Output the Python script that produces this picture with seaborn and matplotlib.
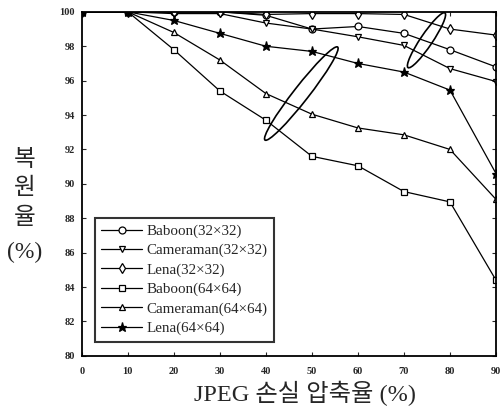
import numpy as np
import pandas as pd
import seaborn as sns
import matplotlib.pyplot as plt
from matplotlib.patches import Ellipse
from matplotlib.transforms import ScaledTranslation

# compression rate (%)
rates = [0, 10, 20, 30, 40, 50, 60, 70, 80, 90]

baboon_32 = [100, 100, 100, 100, 99.8, 99.0, 99.15, 98.75, 97.8, 96.8]
cameraman_32 = [100, 100, 99.9, 99.9, 99.35, 99.0, 98.55, 98.05, 96.7, 95.95]
lena_32 = [100, 100, 100, 100, 99.85, 99.9, 99.9, 99.85, 99.0, 98.65]
baboon_64 = [100, 100, 97.8, 95.4, 93.7, 91.6, 91.05, 89.55, 88.95, 84.4]
cameraman_64 = [100, 100, 98.8, 97.2, 95.25, 94.05, 93.25, 92.85, 92.0, 89.1]
lena_64 = [100, 100, 99.5, 98.75, 98.0, 97.7, 97.0, 96.5, 95.45, 90.6]

labels = ['Baboon(32×32)', 'Cameraman(32×32)', 'Lena(32×32)',
          'Baboon(64×64)', 'Cameraman(64×64)', 'Lena(64×64)']
series = [baboon_32, cameraman_32, lena_32, baboon_64, cameraman_64, lena_64]
markers = ['o', 'v', 'd', 's', '^', '*']

sns.set_style('ticks')
plt.rcParams['font.family'] = ['Liberation Serif', 'Noto Sans CJK KR', 'DejaVu Sans']

fig = plt.figure(figsize=(5.02, 4.09), dpi=100)
ax = fig.add_axes([0.163, 0.130, 0.825, 0.841])

for lab, vals, m in zip(labels, series, markers):
    face = 'black' if m == '*' else 'white'
    ms = 6.5 if m == '*' else 5
    sns.lineplot(x=rates, y=vals, ax=ax, color='black', linewidth=0.9,
                 marker=m, markersize=ms, markerfacecolor=face,
                 markeredgecolor='black', markeredgewidth=0.9, label=lab)

ax.set_xlim(0, 90)
ax.set_ylim(80, 100)
ax.set_xticks(np.arange(0, 91, 10))
ax.set_yticks(np.arange(80, 101, 2))
ax.tick_params(direction='in', top=True, right=True, length=3, width=0.8,
               labelsize=7.5)
ax.tick_params(axis='x', pad=8)
ax.tick_params(axis='y', pad=5)
for t in ax.get_xticklabels() + ax.get_yticklabels():
    t.set_fontweight('bold')
for s in ax.spines.values():
    s.set_linewidth(1.3)
    s.set_color('black')
ax.set_xlabel('')
ax.set_ylabel('')

# annotation ellipses (size in inches, centred in data coords)
for cx, cy, w, h, ang in [(47.7, 95.25, 1.18, 0.15, 52), (74.9, 98.35, 0.66, 0.12, 56)]:
    e = Ellipse((0, 0), w, h, angle=ang, fill=False, edgecolor='black', linewidth=1.2,
                transform=fig.dpi_scale_trans + ScaledTranslation(cx, cy, ax.transData))
    ax.add_patch(e)

leg = ax.legend(loc='lower left', bbox_to_anchor=(0.031, 0.041), borderaxespad=0,
                fontsize=10.8, frameon=True, fancybox=False, edgecolor='black',
                handlelength=2.7, labelspacing=0.38, borderpad=0.45, handletextpad=0.3)
leg.get_frame().set_linewidth(1.5)

ylab_font = ['Liberation Serif', 'Noto Sans CJK KR']
for ch, ypx in [('복', 160), ('원', 188), ('율', 218), ('(%)', 252)]:
    fig.text(25 / 502, 1 - ypx / 409, ch, ha='center', va='center',
             fontsize=17, family=ylab_font)
fig.text(305 / 502, 1 - 393 / 409, 'JPEG 손실 압축율 (%)', ha='center', va='center',
         fontsize=17.5, family=ylab_font)

fig.savefig('out.png', dpi=100)
